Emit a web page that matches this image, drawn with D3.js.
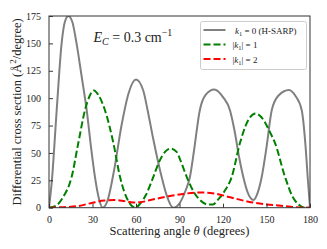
<!DOCTYPE html>
<html>
<head>
<meta charset="utf-8">
<script src="https://cdn.jsdelivr.net/npm/d3@7"></script>
<style>
  body { margin: 0; background: #fff; }
  text { font-family: "Liberation Serif", "DejaVu Serif", serif; fill: #222; }
</style>
</head>
<body>
<svg id="chart" width="327" height="249"></svg>
<script>
// values: [theta (deg), cross section]
var kZero = [
  [0, 0], [2, 25], [5.3, 89], [8.7, 150], [11, 170], [13.3, 175], [16, 170], [19, 150],
  [22.5, 120], [26, 89], [29, 55], [31.7, 28], [34.5, 8], [37, 0],
  [40, 5], [45, 35], [50, 75], [55, 105], [60, 117], [65, 107], [68, 89], [72, 62],
  [77.7, 28], [81, 12], [85.7, 0],
  [90, 4], [94, 15], [97.2, 28], [100, 52], [104, 89], [108, 103], [114, 108], [120, 101],
  [124.8, 89], [128, 70], [131, 47], [134, 28], [137, 14], [141, 7],
  [144, 14], [146.7, 28], [150, 55], [153.6, 89], [158, 102], [165.5, 107.5], [170, 102],
  [174.3, 89], [177, 55], [178.4, 28], [180, 0]
];

var kOne = [
  [0, 0], [5, 2], [9.9, 10], [15.6, 28], [20.2, 59], [24.8, 89], [28, 102], [31, 107],
  [34, 103], [38.6, 89], [44.4, 59], [49, 28], [54.7, 6], [59.5, 0],
  [63, 4], [67, 12], [71.9, 28], [76, 42], [80, 51], [84, 54], [88, 51], [91, 42],
  [95, 28], [100, 14], [105, 6], [109, 3], [113, 3],
  [117, 8], [121, 15], [126, 28], [131.7, 59], [136, 76], [142.5, 86], [148, 80], [152, 70],
  [155.9, 59], [162.8, 28], [168, 10], [172, 3], [176.6, 0], [180, 0]
];

var kTwo = [
  [0, 0], [10, 0.5], [20, 1.5], [30, 4.5], [38, 6.5], [45, 7], [52, 6], [58, 4.8],
  [63, 5], [70, 7], [79, 9.5], [90, 12], [102, 13.8], [108, 13.8], [114, 13],
  [125, 9.5], [137.5, 5.5], [150, 3], [160, 1.8], [170, 0.5], [180, 0]
];

var xTicks = [0, 30, 60, 90, 120, 150, 180];
var yTicks = [0, 25, 50, 75, 100, 125, 150, 175];

var margin = {left: 49, top: 16, right: 17, bottom: 41.3};
var width = 327 - margin.left - margin.right;
var height = 249 - margin.top - margin.bottom;

var svg = d3.select("#chart");
var g = svg.append("g")
    .attr("transform", "translate(" + margin.left + "," + margin.top + ")");

var x = d3.scaleLinear().domain([0, 180]).range([0, width]);
var y = d3.scaleLinear().domain([0, 175]).range([height, 0]);

var line = d3.line()
    .x(function(d) { return x(d[0]); })
    .y(function(d) { return y(d[1]); })
    .curve(d3.curveMonotoneX);

// curves, drawn in legend order
var series = [
  {data: kZero, color: "#808080", dash: null},
  {data: kOne, color: "#008000", dash: "7,3"},
  {data: kTwo, color: "#ff0000", dash: "7,3"}
];

g.append("defs").append("clipPath").attr("id", "clip")
  .append("rect").attr("width", width).attr("height", height);

g.append("g").attr("clip-path", "url(#clip)")
  .selectAll("path.curve")
  .data(series)
  .enter().append("path")
    .attr("class", "curve")
    .attr("d", function(d) { return line(d.data); })
    .attr("fill", "none")
    .attr("stroke", function(d) { return d.color; })
    .attr("stroke-width", 2)
    .attr("stroke-dasharray", function(d) { return d.dash; });

// axes with inward ticks
var xAxis = g.append("g")
    .attr("transform", "translate(0," + height + ")")
    .call(d3.axisBottom(x).tickValues(xTicks).tickSizeInner(-4).tickSizeOuter(0).tickPadding(8));
var yAxis = g.append("g")
    .call(d3.axisLeft(y).tickValues(yTicks).tickSizeInner(-4).tickSizeOuter(0).tickPadding(8));

[xAxis, yAxis].forEach(function(a) {
  a.select(".domain").remove();
  a.selectAll("line").attr("stroke", "#222").attr("stroke-width", 0.9);
  a.selectAll("text").attr("font-size", 10).attr("fill", "#222")
    .style("font-family", "'Liberation Serif', serif");
});

g.append("rect")
    .attr("width", width).attr("height", height)
    .attr("fill", "none").attr("stroke", "#333").attr("stroke-width", 1);

// annotation
var ann = g.append("text")
    .attr("x", 93.5 - margin.left).attr("y", 42 - margin.top)
    .attr("font-size", 14);
ann.append("tspan").attr("font-style", "italic").text("E");
ann.append("tspan").attr("font-style", "italic").attr("font-size", 10)
    .attr("dy", 3).text("C");
ann.append("tspan").attr("dy", -3).text(" = 0.3 cm");
ann.append("tspan").attr("font-size", 10).attr("dy", -6).text("\u22121");

// legend
var legend = g.append("g")
    .attr("transform", "translate(" + (200.5 - margin.left) + "," + (21.5 - margin.top) + ")");
legend.append("rect")
    .attr("width", 106).attr("height", 48).attr("rx", 2)
    .attr("fill", "#fff").attr("fill-opacity", 0.85)
    .attr("stroke", "#ccc").attr("stroke-width", 1);

var rows = legend.selectAll("g.row")
    .data(series)
    .enter().append("g")
    .attr("class", "row")
    .attr("transform", function(d, i) { return "translate(0," + (8.5 + i * 14.5) + ")"; });

rows.append("line")
    .attr("x1", 3).attr("x2", 25)
    .attr("stroke", function(d) { return d.color; })
    .attr("stroke-width", 2)
    .attr("stroke-dasharray", function(d) { return d.dash; });

var labels = rows.append("text")
    .attr("x", function(d, i) { return i === 0 ? 34.5 : 32; })
    .attr("y", 3.5)
    .attr("font-size", 9);

labels.each(function(d, i) {
  var t = d3.select(this);
  if (i === 0) {
    t.append("tspan").attr("font-style", "italic").text("k");
    t.append("tspan").attr("font-size", 6.5).attr("dy", 2).text("1");
    t.append("tspan").attr("dy", -2).text(" = 0 (H-SARP)");
  } else {
    t.append("tspan").text("|");
    t.append("tspan").attr("font-style", "italic").text("k");
    t.append("tspan").attr("font-size", 6.5).attr("dy", 2).text("1");
    t.append("tspan").attr("dy", -2).text("| = " + i);
  }
});

// axis titles
var xt = svg.append("text")
    .attr("x", margin.left + width / 2).attr("y", 235)
    .attr("text-anchor", "middle").attr("font-size", 12.5);
xt.append("tspan").text("Scattering angle ");
xt.append("tspan").attr("font-style", "italic").text("\u03b8");
xt.append("tspan").text(" (degrees)");

var yt = svg.append("text")
    .attr("transform", "translate(21," + (margin.top + height / 2) + ") rotate(-90)")
    .attr("text-anchor", "middle").attr("font-size", 12.5);
yt.append("tspan").text("Differential cross section (\u00c5");
yt.append("tspan").attr("font-size", 9).attr("dy", -5).text("2");
yt.append("tspan").attr("dy", 5).text("/degree)");
</script>
</body>
</html>
